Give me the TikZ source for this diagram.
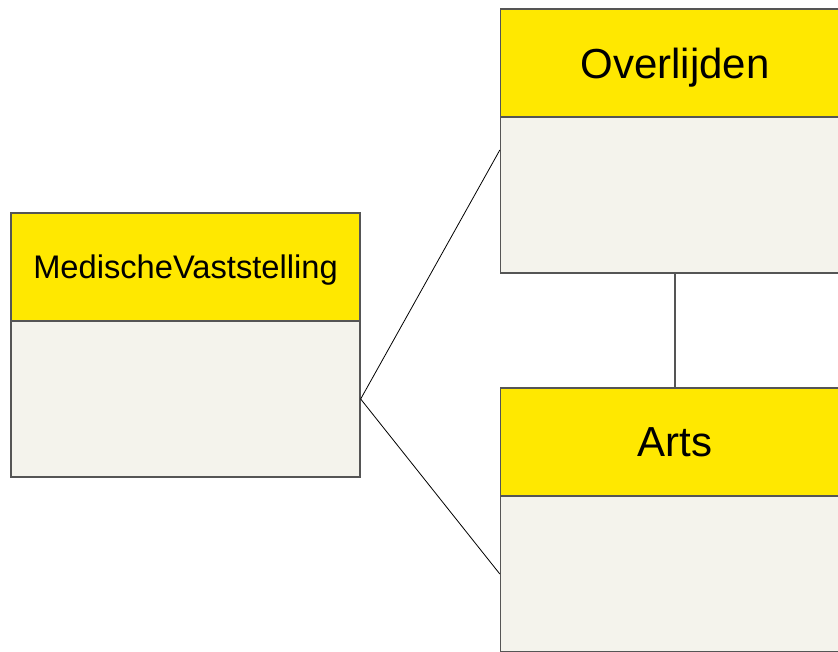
\documentclass[tikz,border=0pt]{standalone}
\usepackage{fontspec}
\setmainfont{Liberation Sans}

\definecolor{classyellow}{HTML}{FFE800}
\definecolor{classbody}{HTML}{F4F3EC}
\definecolor{classline}{HTML}{555555}

\tikzset{
  classhead/.style = {draw=classline, line width=1pt, fill=classyellow,
    minimum width=261.75pt, minimum height=81pt, inner sep=0pt, text depth=0pt},
  classbox/.style  = {draw=classline, line width=1pt, fill=classbody,
    minimum width=261.75pt, minimum height=117pt, inner sep=0pt},
  assoc/.style     = {draw=black, line width=0.6pt},
}

\begin{document}
\begin{tikzpicture}
      [
        x = 0.75pt, y = -0.75pt,
      ]

      \useasboundingbox (0,0) rectangle (838,651);
      \clip (0,0) rectangle (838,651);

      % MedischeVaststelling
      \node[classbox] (mvBody) at (185.5,399) {};
      \node[classhead, font=\fontsize{24.5}{28}\selectfont] (mvHead) at (185.5,267) {MedischeVaststelling};

      % Overlijden
      \node[classbox] (ovBody) at (675,195) {};
      \node[classhead, font=\fontsize{31.5}{36}\selectfont] (ovHead) at (675,63) {Overlijden};

      % Arts
      \node[classbox] (artsBody) at (675,574) {};
      \node[classhead, font=\fontsize{31.5}{36}\selectfont] (artsHead) at (675,442) {Arts};

      \draw[assoc] (mvBody.east) -- ([yshift=33.75pt]ovBody.west);
      \draw[assoc] (mvBody.east) -- (artsBody.west);
      \draw[draw=classline, line width=1pt] (ovBody.south) -- (artsHead.north);

    \end{tikzpicture}
\end{document}
